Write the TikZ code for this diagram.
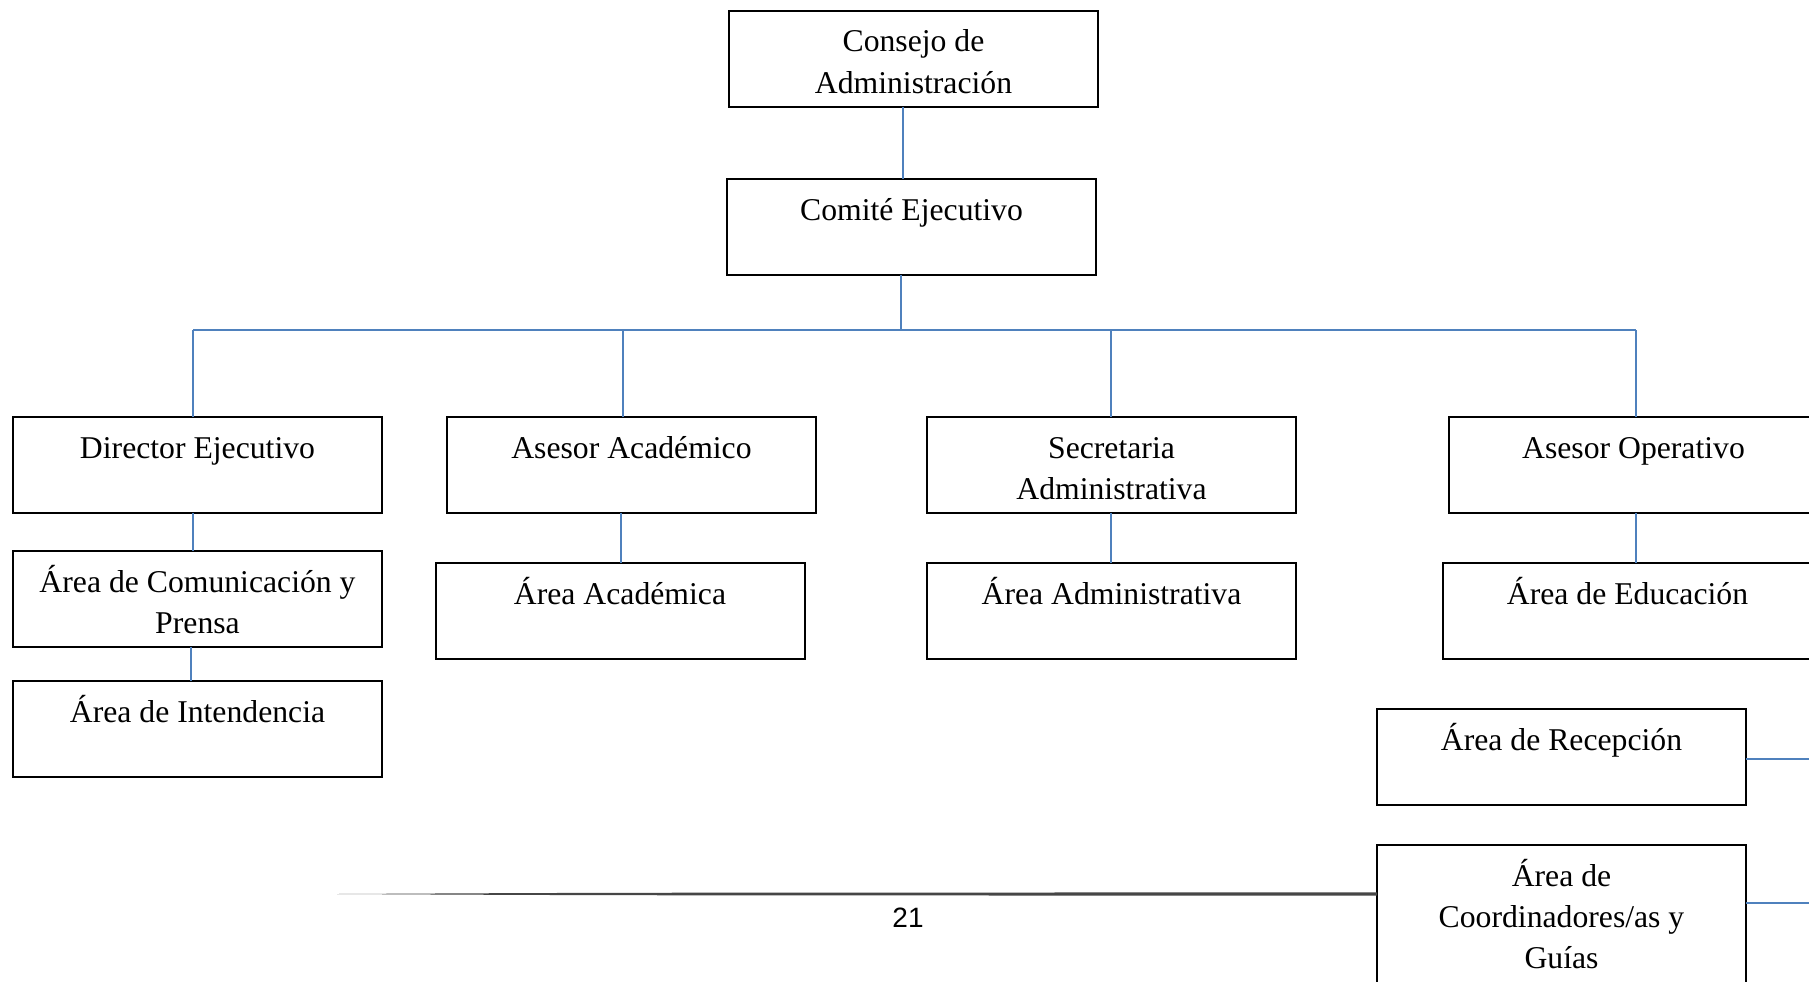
\documentclass[tikz,border=0pt]{standalone}
\usepackage{fontspec}
\setmainfont{Liberation Serif}
\newfontfamily\pagenumfont{Liberation Sans}
\definecolor{linkblue}{RGB}{79,129,189}
\definecolor{footgray}{RGB}{70,70,70}
\newcommand\mytxt[3]{\node[lbl] (#1-t#2) at ([yshift=-#2*41pt]#1.north) {#3};}
\begin{document}
\begin{tikzpicture}[x=1pt,y=-1pt,
  box/.style={draw=black, line width=2pt, minimum width=369pt, minimum height=96pt, inner sep=0pt, outer sep=0pt},
  lbl/.style={anchor=base, inner sep=0pt, font=\fontsize{31.7}{41}\selectfont},
  conn/.style={draw=linkblue, line width=1.8pt}]
\useasboundingbox (0,0) rectangle (1809,982);
\clip (0,0) rectangle (1809,982);
\fill[white] (0,0) rectangle (1809,982);
% boxes
\node[box] (cons) at (913.5,59) {};
\node[box] (com) at (911.5,227) {};
\node[box] (dir) at (197.5,465) {};
\node[box] (ase) at (631.5,465) {};
\node[box] (sec) at (1111.5,465) {};
\node[box] (op) at (1633.5,465) {};
\node[box] (cp) at (197.5,599) {};
\node[box] (int) at (197.5,729) {};
\node[box] (acad) at (620,611) {};
\node[box] (adm) at (1111.5,611) {};
\node[box] (edu) at (1627.5,611) {};
\node[box] (rec) at (1561.5,757) {};
\node[box, minimum height=160pt] (coord) at (1561.5,925) {};
% texts
\mytxt{cons}{1}{Consejo de}
\mytxt{cons}{2}{Administración}
\mytxt{com}{1}{Comité Ejecutivo}
\mytxt{dir}{1}{Director Ejecutivo}
\mytxt{ase}{1}{Asesor Académico}
\mytxt{sec}{1}{Secretaria}
\mytxt{sec}{2}{Administrativa}
\mytxt{op}{1}{Asesor Operativo}
\mytxt{cp}{1}{Área de Comunicación y}
\mytxt{cp}{2}{Prensa}
\mytxt{int}{1}{Área de Intendencia}
\mytxt{acad}{1}{Área Académica}
\mytxt{adm}{1}{Área Administrativa}
\mytxt{edu}{1}{Área de Educación}
\mytxt{rec}{1}{Área de Recepción}
\mytxt{coord}{1}{Área de}
\mytxt{coord}{2}{Coordinadores/as y}
\mytxt{coord}{3}{Guías}
% connectors
\coordinate (busL) at (193,330);
\coordinate (busR) at (1636,330);
\draw[conn] ([xshift=-10.5pt]cons.south) -- ([xshift=-8.5pt]com.north);
\draw[conn] ([xshift=-10.5pt]com.south) -- ([xshift=-10.5pt]com.south |- busL);
\draw[conn] (busL) -- (busR);
\draw[conn] (busL) -- ([xshift=-4.5pt]dir.north);
\draw[conn] ([xshift=-8.5pt]ase.north) -- ([xshift=-8.5pt]ase.north |- busL);
\draw[conn] ([xshift=-0.5pt]sec.north) -- ([xshift=-0.5pt]sec.north |- busL);
\draw[conn] (busR) -- ([xshift=2.5pt]op.north);
\draw[conn] ([xshift=-4.5pt]dir.south) -- ([xshift=-4.5pt]cp.north);
\draw[conn] ([xshift=-6.5pt]cp.south) -- ([xshift=-6.5pt]int.north);
\draw[conn] ([xshift=-10.5pt]ase.south) -- ([xshift=1pt]acad.north);
\draw[conn] ([xshift=-0.5pt]sec.south) -- ([xshift=-0.5pt]adm.north);
\draw[conn] ([xshift=2.5pt]op.south) -- ([xshift=8.5pt]edu.north);
\coordinate (recR) at (1830,759);
\coordinate (coordR) at (1830,903);
\draw[conn] ([yshift=-2pt]rec.east) -- (recR);
\draw[conn] ([yshift=22pt]coord.east) -- (coordR);
% footer rule and page number
\coordinate (fl) at (337,894);
\fill[footgray] (fl) .. controls (600,892.6) .. (1377,892.4) -- (1377,895.6) .. controls (600,895.4) .. (fl) -- cycle;
\node[anchor=base, inner sep=0pt, font=\pagenumfont\fontsize{28}{28}\selectfont] (pg) at (908,927) {21};
\end{tikzpicture}
\end{document}
